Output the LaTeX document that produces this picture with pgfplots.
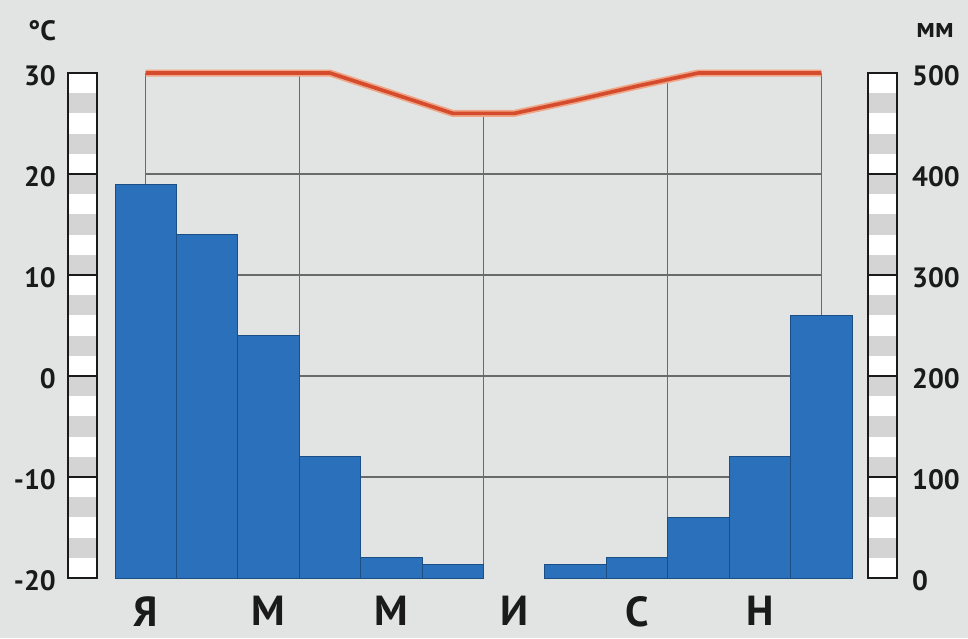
\documentclass[border=0pt]{standalone}
\usepackage{pgfplots}
\pgfplotsset{compat=1.18}
\usepackage{pgfplotstable}
\usepackage{fontspec}
\setmainfont{PT Sans}
\definecolor{bg}{HTML}{E2E4E4}
\definecolor{barblue}{HTML}{2A70BA}
\definecolor{bardark}{HTML}{1C4E86}
\definecolor{gridc}{HTML}{6A6A6A}
\definecolor{tred}{HTML}{D44B2E}
\definecolor{tglow}{HTML}{F0A585}
\definecolor{stripg}{HTML}{D4D4D4}
\definecolor{txt}{HTML}{1A1A1A}
\pgfplotstableread{
m p
0 390
1 340
2 240
3 120
4 20
5 13
7 13
8 20
9 60
10 120
11 260
}\precip
\pgfplotstableread{
m t
0 30
1 30
2 30
3 30
4 28
5 26
6 26
7 27.3
8 28.7
9 30
10 30
11 30
}\temp
\begin{document}
\begin{tikzpicture}
\fill[bg] (-115pt,-60pt) rectangle (853pt,578pt);
\path[use as bounding box] (-115pt,-60pt) rectangle (853pt,578pt);
% scale strips
\foreach \x in {-47,753} {
  \fill[white] (\x pt,0pt) rectangle ++(29pt,505pt);
  \foreach \i in {1,3,...,23} {
    \fill[stripg] (\x pt,\i*20.2pt) rectangle ++(29pt,20.2pt);
  }
  \foreach \k in {1,...,4} {
    \draw[line width=1.6pt, txt] (\x pt,\k*101pt) -- ++(29pt,0pt);
  }
  \draw[line width=2pt, txt] (\x pt,0pt) rectangle ++(29pt,505pt);
}
\node[font=\fontsize{28}{28}\selectfont\bfseries, text=txt] at (-73pt,547pt) {°C};
\node[font=\fontsize{28}{28}\selectfont\bfseries, text=txt] at (820pt,547pt) {мм};
\begin{axis}[
  at={(0pt,0pt)}, anchor=south west,
  scale only axis, width=737pt, height=505pt,
  xmin=-0.5, xmax=11.5, ymin=0, ymax=500,
  axis line style={draw=none}, tick style={draw=none},
  clip=false,
  xtick={0,2,4,6,8,10},
  xticklabels={Я,М,М,И,С,Н},
  ytick={0,100,200,300,400,500},
  yticklabels={0,100,200,300,400,500},
  yticklabel pos=right,
  x tick label style={font=\fontsize{42}{42}\selectfont\bfseries, text=txt, inner sep=0pt, anchor=north, yshift=-18pt},
  y tick label style={font=\fontsize{28}{28}\selectfont\bfseries, text=txt, inner sep=0pt, anchor=west, xshift=60pt, yshift=-3pt},
]
\draw[gridc, line width=1.1pt] (axis cs:0,100) -- (axis cs:11,100);
\draw[gridc, line width=1.1pt] (axis cs:0,200) -- (axis cs:11,200);
\draw[gridc, line width=1.1pt] (axis cs:0,300) -- (axis cs:11,300);
\draw[gridc, line width=1.1pt] (axis cs:0,400) -- (axis cs:11,400);
\draw[gridc, line width=1.1pt] (axis cs:0,0) -- (axis cs:0,500);
\draw[gridc, line width=1.1pt] (axis cs:2.5,0) -- (axis cs:2.5,500);
\draw[gridc, line width=1.1pt] (axis cs:5.5,0) -- (axis cs:5.5,460);
\draw[gridc, line width=1.1pt] (axis cs:8.5,0) -- (axis cs:8.5,494);
\draw[gridc, line width=1.1pt] (axis cs:11,0) -- (axis cs:11,500);
\addplot[ybar, bar width=1, fill=barblue, draw=bardark, line width=1pt] table[x=m, y=p] {\precip};
\end{axis}
\begin{axis}[
  at={(0pt,0pt)}, anchor=south west,
  scale only axis, width=737pt, height=505pt,
  xmin=-0.5, xmax=11.5, ymin=-20, ymax=30,
  axis line style={draw=none}, tick style={draw=none},
  clip=false,
  xtick=\empty,
  ytick={-20,-10,0,10,20,30},
  yticklabels={-20,-10,0,10,20,30},
  y tick label style={font=\fontsize{28}{28}\selectfont\bfseries, text=txt, inner sep=0pt, anchor=east, xshift=-59pt, yshift=-3pt},
]
\addplot[tglow, line width=7pt, line join=round] table[x=m, y=t] {\temp};
\addplot[tred, line width=3.6pt, line join=round] table[x=m, y=t] {\temp};
\end{axis}
\end{tikzpicture}
\end{document}
